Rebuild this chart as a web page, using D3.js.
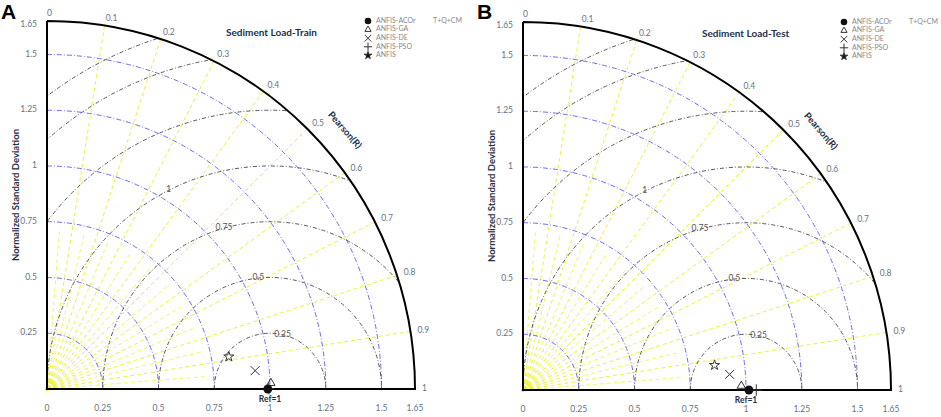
<!DOCTYPE html>
<html>
<head>
<meta charset="utf-8">
<script src="https://cdn.jsdelivr.net/npm/d3@7"></script>
<style>
  body { margin: 0; background: #fff; }
  svg text { font-family: Lato, "Noto Sans", sans-serif; }
</style>
</head>
<body>
<div id="chart"></div>
<script>
// model names and values
const models = ["ANFIS-ACOr", "ANFIS-GA", "ANFIS-DE", "ANFIS-PSO", "ANFIS"];
const trainStd = [0.99, 1.004, 0.937, 0.995, 0.828];
const trainR = [1.0, 0.983, 0.944, 0.999, 0.888];
const testStd = [1.013, 0.979, 0.929, 1.046, 0.866];
const testR = [1.0, 0.988, 0.952, 1.0, 0.918];

// grid / tick values
const corrTicks = [0, 0.1, 0.2, 0.3, 0.4, 0.5, 0.6, 0.7, 0.8, 0.9, 1];
const corrMinor = [0.05, 0.15, 0.25, 0.35, 0.45, 0.55, 0.65, 0.75, 0.85, 0.95];
const stdTicks = [0, 0.25, 0.5, 0.75, 1, 1.25, 1.5, 1.65];
const stdArcs = [0.25, 0.5, 0.75, 1, 1.25, 1.5];
const rmsdArcs = [0.25, 0.5, 0.75, 1, 1.25, 1.5, 1.65];
const rmsdLabels = [0.25, 0.5, 0.75, 1];
const legendNote = "T+Q+CM";

const width = 941, height = 417;
const R = 368;            // pixel radius of the 1.65 arc
const maxStd = 1.65;
const rmsdLabelAngle = [77, 96, 106, 117];   // degrees around the ref point

const svg = d3.select("#chart")
  .append("svg")
    .attr("width", width)
    .attr("height", height);

const rScale = d3.scaleLinear().domain([0, maxStd]).range([0, R]);
// correlation -> angle (0 at the top, 1 on the x axis)
const aScale = d3.scaleLinear().domain([0, 1]).range([Math.PI / 2, 0]);

const px = (s, c) => rScale(s) * Math.cos(aScale(c));
const py = (s, c) => -rScale(s) * Math.sin(aScale(c));

const textCol = "#66737f", navy = "#1d2f48";

const symbolOf = {
  "ANFIS-ACOr": d3.symbolCircle,
  "ANFIS-GA": d3.symbolTriangle2,
  "ANFIS-DE": d3.symbolTimes,
  "ANFIS-PSO": d3.symbolPlus,
  "ANFIS": d3.symbolStar
};
const symSize = {"ANFIS-ACOr": 62, "ANFIS-GA": 50, "ANFIS-DE": 55, "ANFIS-PSO": 45, "ANFIS": 32};

const panels = [
  {id: "A", title: "Sediment Load-Train", ox: 47, oy: 389, std: trainStd, cor: trainR},
  {id: "B", title: "Sediment Load-Test", ox: 523, oy: 390, std: testStd, cor: testR}
];

panels.forEach(function(p) {
  const g = svg.append("g").attr("transform", `translate(${p.ox},${p.oy})`);

  // clip to the quarter disc
  g.append("clipPath").attr("id", "clip" + p.id)
    .append("path")
      .attr("d", `M0,0 L0,${-R} A${R},${R} 0 0 1 ${R},0 Z`);
  const grid = g.append("g").attr("clip-path", `url(#clip${p.id})`);

  // minor correlation rays near the origin
  grid.selectAll(".minor")
    .data(corrMinor)
    .join("line")
      .attr("x1", 0).attr("y1", 0)
      .attr("x2", d => px(0.72, d))
      .attr("y2", d => py(0.72, d))
      .attr("stroke", "#f3f34a")
      .attr("stroke-width", 0.9)
      .style("stroke-dasharray", "4,3");

  // correlation rays
  grid.selectAll(".ray")
    .data(corrTicks.slice(1, -1))
    .join("line")
      .attr("x1", 0).attr("y1", 0)
      .attr("x2", d => px(maxStd, d))
      .attr("y2", d => py(maxStd, d))
      .attr("stroke", "#f0f03a")
      .attr("stroke-width", 1)
      .style("stroke-dasharray", "4,3");

  // little yellow rings at the origin
  [4, 7].forEach(function(rr) {
    grid.append("path")
      .attr("d", `M0,${-rr} A${rr},${rr} 0 0 1 ${rr},0`)
      .attr("fill", "none")
      .attr("stroke", "#f0f03a")
      .attr("stroke-width", 1.3);
  });
  g.append("circle").attr("r", 2).attr("fill", "#f0e000");

  // standard deviation arcs (blue)
  grid.selectAll(".sarc")
    .data(stdArcs)
    .join("path")
      .attr("d", function(d) {
        const path = d3.path();
        path.moveTo(0, -rScale(d));
        path.arc(0, 0, rScale(d), -Math.PI / 2, 0);
        return path.toString();
      })
      .attr("fill", "none")
      .attr("stroke", "#6a6af2")
      .attr("stroke-width", 1)
      .style("stroke-dasharray", "5,2,1,2");

  // RMSD arcs around the reference point
  const cx = rScale(1);
  grid.selectAll(".rarc")
    .data(rmsdArcs)
    .join("path")
      .attr("d", function(d) {
        const path = d3.path();
        path.moveTo(cx - rScale(d), 0);
        path.arc(cx, 0, rScale(d), Math.PI, 2 * Math.PI);
        return path.toString();
      })
      .attr("fill", "none")
      .attr("stroke", "#555")
      .attr("stroke-width", 1)
      .style("stroke-dasharray", "4,2,1,2");

  g.selectAll(".rlab")
    .data(rmsdLabels)
    .join("text")
      .attr("x", (d, i) => cx + rScale(d) * Math.cos(rmsdLabelAngle[i] * Math.PI / 180))
      .attr("y", (d, i) => -rScale(d) * Math.sin(rmsdLabelAngle[i] * Math.PI / 180))
      .attr("text-anchor", "middle")
      .attr("dominant-baseline", "middle")
      .style("font-size", "8.5px")
      .style("fill", "#555")
      .text(d => d);

  // outer frame
  g.append("path")
    .attr("d", `M0,${-R} L0,0 L${R},0 A${R},${R} 0 0 0 0,${-R}`)
    .attr("fill", "none")
    .attr("stroke", "#000")
    .attr("stroke-width", 2);

  // x tick labels
  g.selectAll(".xt")
    .data(stdTicks)
    .join("text")
      .attr("x", d => rScale(d))
      .attr("y", 20)
      .attr("text-anchor", "middle")
      .attr("dominant-baseline", "middle")
      .style("font-size", "8.5px")
      .style("fill", textCol)
      .text(d => d);

  // y tick labels
  g.selectAll(".yt")
    .data(stdTicks.slice(1))
    .join("text")
      .attr("x", -10)
      .attr("y", d => -rScale(d) + (d === maxStd ? 4 : 0))
      .attr("text-anchor", "end")
      .attr("dominant-baseline", "middle")
      .style("font-size", "8.5px")
      .style("fill", textCol)
      .text(d => d);

  // correlation labels around the arc
  g.selectAll(".ct")
    .data(corrTicks)
    .join("text")
      .attr("x", d => (R + 7) * Math.cos(aScale(d)))
      .attr("y", d => -(R + 7) * Math.sin(aScale(d)))
      .attr("text-anchor", "start")
      .attr("dominant-baseline", "middle")
      .style("font-size", "8.5px")
      .style("fill", textCol)
      .text(d => d);

  // Pearson(R) title along the arc
  const pa = 41 * Math.PI / 180;
  g.append("text")
    .attr("transform", `translate(${394 * Math.cos(pa)},${-394 * Math.sin(pa)}) rotate(${90 - 41})`)
    .attr("text-anchor", "middle")
    .attr("dominant-baseline", "middle")
    .style("font-size", "9.5px")
    .style("font-weight", "bold")
    .style("fill", navy)
    .text("Pearson(R)");

  // y axis title
  g.append("text")
    .attr("transform", `translate(-30,-194) rotate(-90)`)
    .attr("text-anchor", "middle")
    .attr("dominant-baseline", "middle")
    .style("font-size", "9.5px")
    .style("font-weight", "bold")
    .style("fill", navy)
    .text("Normalized Standard Deviation");

  g.append("text")
    .attr("x", rScale(1))
    .attr("y", 11)
    .attr("text-anchor", "middle")
    .attr("dominant-baseline", "middle")
    .style("font-size", "8.5px")
    .style("font-weight", "bold")
    .style("fill", navy)
    .text("Ref=1");

  // panel title
  g.append("text")
    .attr("x", 179)
    .attr("y", -R + 12)
    .attr("dominant-baseline", "middle")
    .style("font-size", "10px")
    .style("font-weight", "bold")
    .style("fill", navy)
    .text(p.title);

  // points
  const pts = models.map((m, i) => ({name: m, s: p.std[i], c: p.cor[i]}));
  const drawSym = function(sel, scale, legend) {
    sel.attr("d", d => d3.symbol().type(symbolOf[d.name]).size(symSize[d.name] * scale)())
      .attr("fill", d => d.name === "ANFIS-ACOr" || (legend && d.name === "ANFIS") ? "#111"
                       : (d.name === "ANFIS" ? "#fff" : "none"))
      .attr("stroke", d => d.name === "ANFIS-ACOr" ? "none" : "#333")
      .attr("stroke-width", 1);
  };
  // draw back-to-front so the filled circle sits above the PSO cross
  const order = [3, 1, 2, 4, 0];
  g.selectAll(".pt")
    .data(order.map(i => pts[i]))
    .join("path")
      .attr("transform", d => `translate(${px(d.s, d.c)},${py(d.s, d.c)})`)
      .call(drawSym, 1, false);

  // legend
  const lx = 321, ly = -R;
  g.selectAll(".lsym")
    .data(pts)
    .join("path")
      .attr("transform", (d, i) => `translate(${lx},${ly + i * 8.6})`)
      .call(drawSym, 0.55, true);
  g.selectAll(".ltxt")
    .data(pts)
    .join("text")
      .attr("x", lx + 8)
      .attr("y", (d, i) => ly + i * 8.6)
      .attr("dominant-baseline", "middle")
      .style("font-size", "7px")
      .style("fill", "#8a8a8a")
      .text(d => d.name);
  g.append("text")
    .attr("x", 386)
    .attr("y", ly)
    .attr("dominant-baseline", "middle")
    .style("font-size", "7px")
    .style("fill", "#8a8a8a")
    .text(legendNote);

  // panel letter
  svg.append("text")
    .attr("x", p.ox - 46)
    .attr("y", 19)
    .style("font-family", "'Liberation Sans', Arial, sans-serif")
    .style("font-size", "21px")
    .style("font-weight", "bold")
    .style("fill", "#000")
    .text(p.id);
});
</script>
</body>
</html>
